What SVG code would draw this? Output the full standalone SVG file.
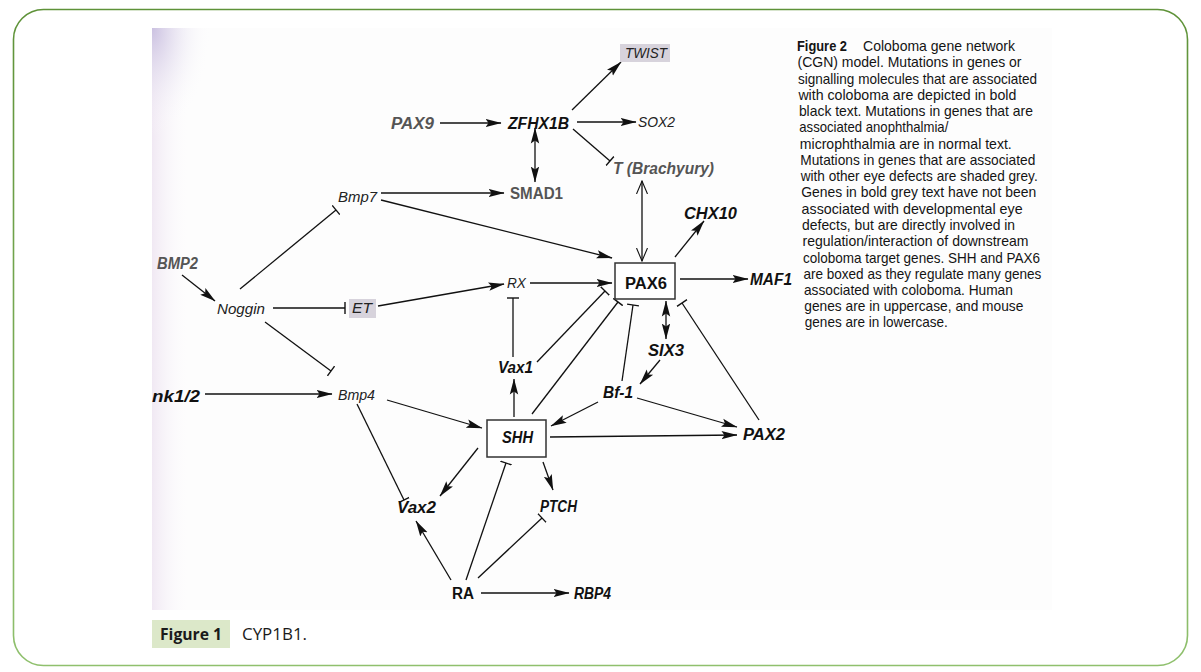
<svg xmlns="http://www.w3.org/2000/svg" width="1201" height="672" viewBox="0 0 1201 672">
<defs>
<linearGradient id="frameG" x1="0" y1="0" x2="0" y2="1"><stop offset="0" stop-color="#5e9238"/><stop offset="1" stop-color="#8fc06d"/></linearGradient>
<linearGradient id="scanL" x1="0" y1="0" x2="1" y2="0"><stop offset="0" stop-color="#efe6f2" stop-opacity="0.9"/><stop offset="1" stop-color="#ffffff" stop-opacity="0"/></linearGradient>
<radialGradient id="scanTL" cx="0" cy="0" r="1"><stop offset="0" stop-color="#c9bfe0" stop-opacity="0.95"/><stop offset="1" stop-color="#ffffff" stop-opacity="0"/></radialGradient>
<marker id="arr" viewBox="0 0 16 10" refX="15.5" refY="5" markerWidth="16" markerHeight="10" markerUnits="userSpaceOnUse" orient="auto-start-reverse"><path d="M0,0.8 L16,5 L0,9.2 L3,5 Z" fill="#111"/></marker>
<marker id="tee" viewBox="0 0 4 12" refX="2" refY="6" markerWidth="4" markerHeight="12" markerUnits="userSpaceOnUse" orient="auto"><line x1="2" y1="0" x2="2" y2="12" stroke="#111" stroke-width="1.4"/></marker>
<marker id="open" viewBox="0 0 14 12" refX="13" refY="6" markerWidth="14" markerHeight="12" markerUnits="userSpaceOnUse" orient="auto-start-reverse"><path d="M0,0.5 L13,6 L0,11.5" fill="none" stroke="#111" stroke-width="1.1"/></marker>
</defs>
<style>
.e{stroke:#111;stroke-width:1.3;fill:none}
.a{marker-end:url(#arr)}
.aa{marker-start:url(#arr);marker-end:url(#arr)}
.t{marker-end:url(#tee)}
.oo{marker-start:url(#open);marker-end:url(#open)}
.lb{font-family:"Liberation Sans",Arial,sans-serif;font-size:16px;font-weight:bold;font-style:italic;fill:#111}
.lg{fill:#555}
.ln{font-family:"Liberation Sans",Arial,sans-serif;font-size:14.5px;font-style:italic;fill:#222}
.up{font-style:normal}
.box{fill:#fff;stroke:#333;stroke-width:1.5}
.sh{fill:#d7d3dc}
.cap{font-family:"Liberation Sans",Arial,sans-serif;font-size:14.5px;fill:#141414}
</style>
<rect x="0" y="0" width="1201" height="672" fill="#fff"/>
<rect x="13.5" y="9.5" width="1174" height="656" rx="30" ry="30" fill="none" stroke="url(#frameG)" stroke-width="1.6"/>
<g id="scan">
<rect x="152" y="28" width="900" height="582" fill="#fdfdfd"/>
<rect x="152" y="28" width="40" height="582" fill="url(#scanL)"/>
<rect x="152" y="28" width="60" height="110" fill="url(#scanTL)"/>
</g>
<g id="connectors">
<line class="e a" x1="440" y1="123" x2="501" y2="123"/>
<line class="e a" x1="577" y1="122" x2="636" y2="122"/>
<line class="e a" x1="572" y1="110" x2="621" y2="62"/>
<line class="e t" x1="573" y1="129" x2="610" y2="161"/>
<line class="e aa" x1="535" y1="128" x2="535" y2="182"/>
<line class="e a" x1="381" y1="193" x2="504" y2="193"/>
<line class="e a" x1="381" y1="200" x2="612" y2="258"/>
<line class="e t" x1="240" y1="289" x2="336" y2="210"/>
<line class="e a" x1="182" y1="275" x2="215" y2="301"/>
<line class="e t" x1="273" y1="308" x2="345" y2="308"/>
<line class="e a" x1="378" y1="306" x2="504" y2="284"/>
<line class="e a" x1="530" y1="283" x2="612" y2="283"/>
<line class="e oo" x1="642" y1="181" x2="642" y2="261"/>
<line class="e a" x1="675" y1="257" x2="704" y2="221"/>
<line class="e a" x1="680" y1="279" x2="748" y2="279"/>
<line class="e t" x1="513" y1="357" x2="513" y2="298"/>
<line class="e t" x1="537" y1="362" x2="605" y2="291"/>
<line class="e t" x1="532" y1="414" x2="618" y2="302"/>
<line class="e t" x1="622" y1="381" x2="633" y2="305"/>
<line class="e aa" x1="666" y1="301" x2="666" y2="339"/>
<line class="e a" x1="660" y1="360" x2="640" y2="384"/>
<line class="e a" x1="598" y1="402" x2="551" y2="426"/>
<line class="e a" x1="637" y1="398" x2="737" y2="427"/>
<line class="e a" x1="550" y1="437" x2="737" y2="435"/>
<line class="e t" x1="759" y1="420" x2="682" y2="303"/>
<line class="e a" x1="514" y1="417" x2="514" y2="379"/>
<line class="e a" x1="205" y1="394" x2="332" y2="394"/>
<line class="e t" x1="265" y1="322" x2="331" y2="371"/>
<line class="e a" x1="387" y1="400" x2="482" y2="428"/>
<line class="e t" x1="357" y1="404" x2="404" y2="500"/>
<line class="e a" x1="478" y1="448" x2="440" y2="496"/>
<line class="e a" x1="543" y1="462" x2="553" y2="490"/>
<line class="e t" x1="466" y1="580" x2="506" y2="463"/>
<line class="e t" x1="478" y1="578" x2="542" y2="518"/>
<line class="e a" x1="451" y1="580" x2="416" y2="521"/>
<line class="e a" x1="481" y1="593" x2="569" y2="593"/>
</g>
<g id="TWIST"><rect class="sh" x="620" y="44" width="50" height="18"/><text class="ln" x="625" y="58" textLength="42" lengthAdjust="spacingAndGlyphs">TWIST</text></g>
<g id="PAX9"><text class="lb lg" x="391" y="129" textLength="43" lengthAdjust="spacingAndGlyphs">PAX9</text></g>
<g id="ZFHX1B"><text class="lb" x="508" y="129" textLength="61" lengthAdjust="spacingAndGlyphs">ZFHX1B</text></g>
<g id="SOX2"><text class="ln" x="638" y="127" textLength="37" lengthAdjust="spacingAndGlyphs">SOX2</text></g>
<g id="T_Brachyury"><text class="lb lg" x="613" y="174" textLength="101" lengthAdjust="spacingAndGlyphs">T (Brachyury)</text></g>
<g id="SMAD1"><text class="lb lg up" x="510" y="199" textLength="53" lengthAdjust="spacingAndGlyphs">SMAD1</text></g>
<g id="Bmp7"><text class="ln" x="338" y="202" textLength="39" lengthAdjust="spacingAndGlyphs">Bmp7</text></g>
<g id="CHX10"><text class="lb" x="684" y="219" textLength="53" lengthAdjust="spacingAndGlyphs">CHX10</text></g>
<g id="BMP2"><text class="lb lg" x="157" y="269" textLength="41" lengthAdjust="spacingAndGlyphs">BMP2</text></g>
<g id="RX"><text class="ln" x="507" y="288" textLength="19" lengthAdjust="spacingAndGlyphs">RX</text></g>
<g id="PAX6"><rect class="box" x="615" y="263" width="60" height="36"/><text class="lb up" x="625" y="289" textLength="42" lengthAdjust="spacingAndGlyphs">PAX6</text></g>
<g id="MAF1"><text class="lb" x="750" y="285" textLength="42" lengthAdjust="spacingAndGlyphs">MAF1</text></g>
<g id="Noggin"><text class="ln" x="217" y="314" textLength="48" lengthAdjust="spacingAndGlyphs">Noggin</text></g>
<g id="ET"><rect class="sh" x="349" y="299" width="27" height="19"/><text class="ln" x="352" y="313" textLength="20" lengthAdjust="spacingAndGlyphs">ET</text></g>
<g id="SIX3"><text class="lb" x="648" y="356" textLength="36" lengthAdjust="spacingAndGlyphs">SIX3</text></g>
<g id="Vax1"><text class="lb" x="498" y="373" textLength="35" lengthAdjust="spacingAndGlyphs">Vax1</text></g>
<g id="Bf-1"><text class="lb" x="603" y="398" textLength="30" lengthAdjust="spacingAndGlyphs">Bf-1</text></g>
<g id="nk1_2"><text class="lb" x="152" y="402" textLength="48" lengthAdjust="spacingAndGlyphs">nk1/2</text></g>
<g id="Bmp4"><text class="ln" x="338" y="400" textLength="37" lengthAdjust="spacingAndGlyphs">Bmp4</text></g>
<g id="SHH"><rect class="box" x="487" y="420" width="59" height="37"/><text class="lb" x="502" y="443" textLength="31" lengthAdjust="spacingAndGlyphs">SHH</text></g>
<g id="PAX2"><text class="lb" x="743" y="440" textLength="42" lengthAdjust="spacingAndGlyphs">PAX2</text></g>
<g id="Vax2"><text class="lb" x="397" y="513" textLength="39" lengthAdjust="spacingAndGlyphs">Vax2</text></g>
<g id="PTCH"><text class="lb" x="540" y="512" textLength="37" lengthAdjust="spacingAndGlyphs">PTCH</text></g>
<g id="RA"><text class="lb up" x="452" y="599" textLength="22" lengthAdjust="spacingAndGlyphs">RA</text></g>
<g id="RBP4"><text class="lb" x="574" y="599" textLength="37" lengthAdjust="spacingAndGlyphs">RBP4</text></g>
<g id="legend">
<text class="cap" x="797" y="51" font-weight="bold" textLength="50" lengthAdjust="spacingAndGlyphs">Figure 2</text>
<text class="cap" x="863" y="51" textLength="152" lengthAdjust="spacingAndGlyphs">Coloboma gene network</text>
<text class="cap" x="797.5" y="67.2" textLength="224" lengthAdjust="spacingAndGlyphs">(CGN) model. Mutations in genes or</text>
<text class="cap" x="798" y="83.5" textLength="239" lengthAdjust="spacingAndGlyphs">signalling molecules that are associated</text>
<text class="cap" x="798.4" y="99.7" textLength="218" lengthAdjust="spacingAndGlyphs">with coloboma are depicted in bold</text>
<text class="cap" x="798.9" y="116" textLength="234" lengthAdjust="spacingAndGlyphs">black text. Mutations in genes that are</text>
<text class="cap" x="799.3" y="132.2" textLength="149" lengthAdjust="spacingAndGlyphs">associated anophthalmia/</text>
<text class="cap" x="799.8" y="148.5" textLength="212" lengthAdjust="spacingAndGlyphs">microphthalmia are in normal text.</text>
<text class="cap" x="800.3" y="164.7" textLength="235" lengthAdjust="spacingAndGlyphs">Mutations in genes that are associated</text>
<text class="cap" x="800.7" y="181" textLength="237" lengthAdjust="spacingAndGlyphs">with other eye defects are shaded grey.</text>
<text class="cap" x="801.2" y="197.2" textLength="235" lengthAdjust="spacingAndGlyphs">Genes in bold grey text have not been</text>
<text class="cap" x="801.6" y="213.5" textLength="221" lengthAdjust="spacingAndGlyphs">associated with developmental eye</text>
<text class="cap" x="802.1" y="229.7" textLength="213" lengthAdjust="spacingAndGlyphs">defects, but are directly involved in</text>
<text class="cap" x="802.5" y="246" textLength="226" lengthAdjust="spacingAndGlyphs">regulation/interaction of downstream</text>
<text class="cap" x="803" y="262.5" textLength="237" lengthAdjust="spacingAndGlyphs">coloboma target genes. SHH and PAX6</text>
<text class="cap" x="803.4" y="278.7" textLength="238" lengthAdjust="spacingAndGlyphs">are boxed as they regulate many genes</text>
<text class="cap" x="803.9" y="294.9" textLength="209" lengthAdjust="spacingAndGlyphs">associated with coloboma. Human</text>
<text class="cap" x="804.3" y="311.1" textLength="219" lengthAdjust="spacingAndGlyphs">genes are in uppercase, and mouse</text>
<text class="cap" x="804.8" y="327.3" textLength="143" lengthAdjust="spacingAndGlyphs">genes are in lowercase.</text>
</g>
<g id="caption">
<rect x="152" y="620" width="78" height="28" fill="#dce8c9"/>
<text x="160" y="640" font-family="'Open Sans','Liberation Sans',sans-serif" font-size="16" font-weight="bold" fill="#1a1a1a" textLength="62" lengthAdjust="spacingAndGlyphs">Figure 1</text>
<text x="242" y="640" font-family="'Open Sans','Liberation Sans',sans-serif" font-size="16" fill="#1a1a1a" textLength="65" lengthAdjust="spacingAndGlyphs">CYP1B1.</text>
</g>
</svg>
